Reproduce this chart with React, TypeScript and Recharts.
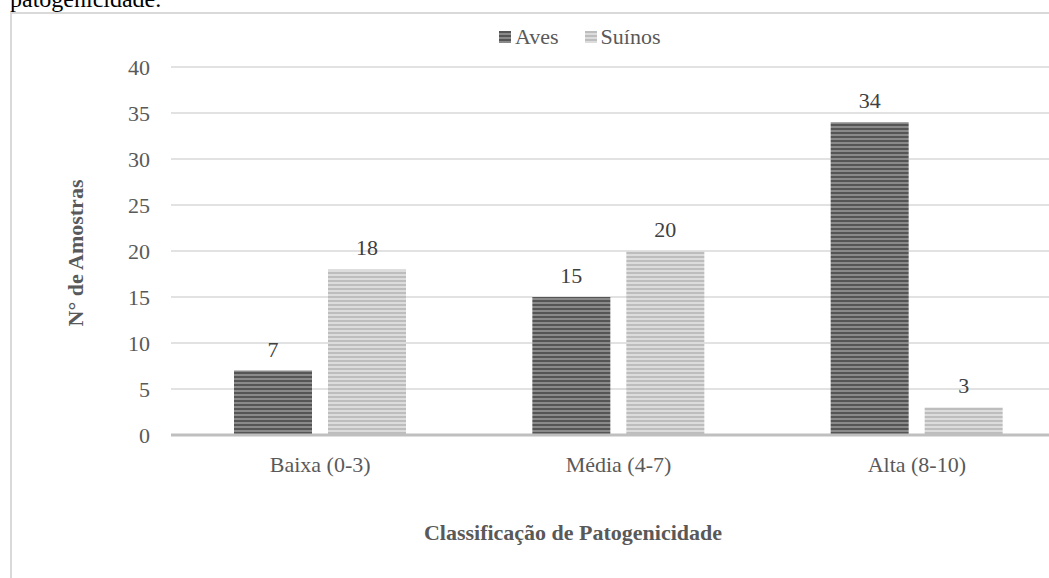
import { BarChart, Bar, XAxis, YAxis, CartesianGrid, LabelList } from "recharts";

const categories = ["Baixa (0-3)", "Média (4-7)", "Alta (8-10)"];
const aves = [7, 15, 34];
const suinos = [18, 20, 3];
const yTicks = [0, 5, 10, 15, 20, 25, 30, 35, 40];

const data = categories.map((name, i) => ({ name, aves: aves[i], suinos: suinos[i] }));

const serif = '"Liberation Serif", "Times New Roman", serif';

function LegendBox() {
  const item = (label: string, fill: string) => (
    <span style={{ display: "inline-flex", alignItems: "center", marginRight: 26 }}>
      <svg width={12} height={12} style={{ marginRight: 4 }}>
        <rect width={12} height={12} fill={fill} />
      </svg>
      <span>{label}</span>
    </span>
  );
  return (
    <div
      style={{
        position: "absolute",
        top: 22,
        left: 499,
        fontFamily: serif,
        fontSize: 22,
        lineHeight: "28px",
        color: "#595959",
        whiteSpace: "nowrap",
      }}
    >
      {item("Aves", "url(#stripeDark)")}
      {item("Suínos", "url(#stripeLight)")}
    </div>
  );
}

export default function App() {
  return (
    <div
      style={{
        position: "absolute",
        left: 0,
        top: 0,
        width: 1049,
        height: 578,
        overflow: "hidden",
        background: "#fff",
        fontFamily: serif,
      }}
    >
      <svg width={0} height={0} style={{ position: "absolute" }}>
        <defs>
          <pattern id="stripeDark" width={4} height={4} patternUnits="userSpaceOnUse">
            <rect width={4} height={4} fill="#8a8a8a" />
            <rect width={4} height={2} fill="#555555" />
          </pattern>
          <pattern id="stripeLight" width={4} height={4} patternUnits="userSpaceOnUse">
            <rect width={4} height={4} fill="#dcdcdc" />
            <rect width={4} height={2} fill="#bdbdbd" />
          </pattern>
        </defs>
      </svg>

      <div
        style={{
          position: "absolute",
          left: 10,
          top: -13,
          fontSize: 24,
          color: "#000",
          lineHeight: "24px",
        }}
      >
        patogenicidade.
      </div>

      <div
        style={{
          position: "absolute",
          left: 10,
          top: 12,
          width: 1100,
          height: 600,
          borderLeft: "2px solid #d9d9d9",
          borderTop: "2px solid #d9d9d9",
        }}
      />

      <LegendBox />

      <div style={{ position: "absolute", left: 0, top: 0 }}>
        <BarChart
          width={1070}
          height={578}
          data={data}
          margin={{ top: 67, right: 4, bottom: 113, left: 0 }}
          barSize={78}
          barGap={16}
        >
          <CartesianGrid vertical={false} stroke="#d9d9d9" strokeWidth={1.5} />
          <XAxis
            dataKey="name"
            height={30}
            tickSize={0}
            tickLine={false}
            tickMargin={21}
            axisLine={{ stroke: "#bfbfbf", strokeWidth: 3 }}
            tick={{ fill: "#595959", fontSize: 22, fontFamily: serif }}
            label={{
              content: () => (
                <text
                  x={573}
                  y={540}
                  textAnchor="middle"
                  fill="#595959"
                  fontSize={22}
                  fontWeight="bold"
                  fontFamily={serif}
                >
                  Classificação de Patogenicidade
                </text>
              ),
            }}
          />
          <YAxis
            width={171}
            domain={[0, 40]}
            ticks={yTicks}
            interval={0}
            tickSize={0}
            tickLine={false}
            tickMargin={21}
            axisLine={false}
            tick={{ fill: "#595959", fontSize: 22, fontFamily: serif }}
            label={{
              content: () => (
                <text
                  x={0}
                  y={0}
                  transform="translate(75,253) rotate(-90)"
                  textAnchor="middle"
                  dominantBaseline="central"
                  fill="#595959"
                  fontSize={22}
                  fontWeight="bold"
                  fontFamily={serif}
                >
                  N° de Amostras
                </text>
              ),
            }}
          />
          <Bar dataKey="aves" name="Aves" fill="url(#stripeDark)" isAnimationActive={false}>
            <LabelList
              dataKey="aves"
              position="top"
              offset={14}
              fill="#404040"
              fontSize={22}
              fontFamily={serif}
            />
          </Bar>
          <Bar dataKey="suinos" name="Suínos" fill="url(#stripeLight)" isAnimationActive={false}>
            <LabelList
              dataKey="suinos"
              position="top"
              offset={14}
              fill="#404040"
              fontSize={22}
              fontFamily={serif}
            />
          </Bar>
        </BarChart>
      </div>
    </div>
  );
}
